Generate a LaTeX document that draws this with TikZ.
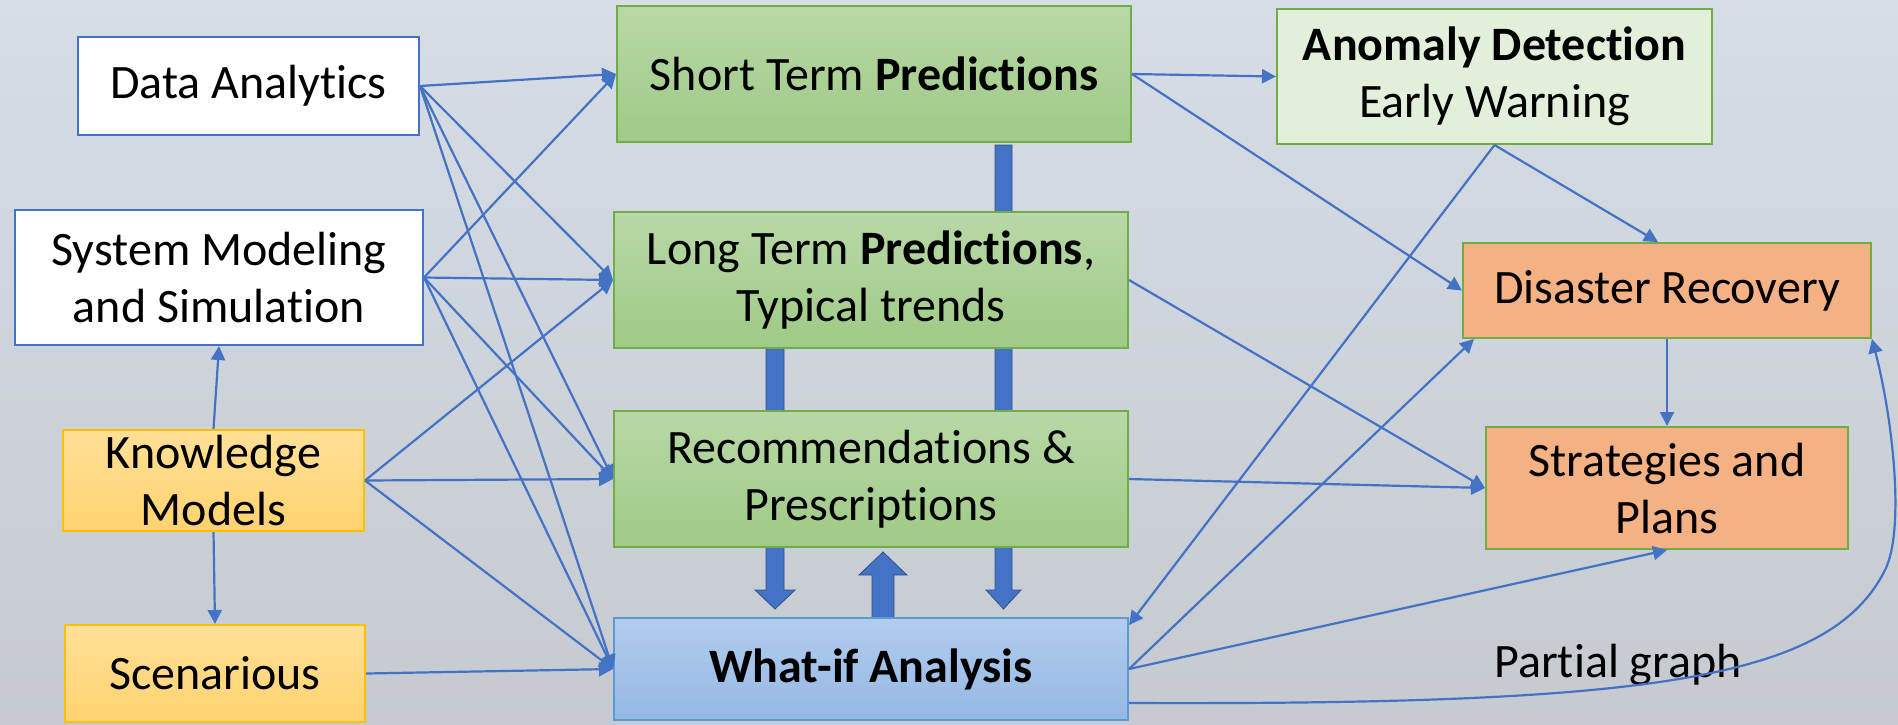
\documentclass[tikz,border=0pt]{standalone}
\usepackage{fontspec}
\setmainfont{Carlito}[Ligatures={NoCommon}]
\usetikzlibrary{arrows.meta,calc}
\definecolor{lineblue}{RGB}{68,114,196}
\definecolor{blockedge}{RGB}{47,82,143}
\definecolor{greenedge}{RGB}{112,173,71}
\definecolor{greentop}{RGB}{184,216,167}
\definecolor{greenbot}{RGB}{159,202,133}
\definecolor{lgreen}{RGB}{226,239,218}
\definecolor{orangefill}{RGB}{244,177,131}
\definecolor{yeltop}{RGB}{255,224,152}
\definecolor{yelbot}{RGB}{255,210,110}
\definecolor{yeledge}{RGB}{255,192,0}
\definecolor{bluetop}{RGB}{178,204,237}
\definecolor{bluebot}{RGB}{149,184,228}
\definecolor{blueedge}{RGB}{91,155,213}
\definecolor{bgtop}{RGB}{214,221,229}
\definecolor{bgbot}{RGB}{198,202,208}
\tikzset{
  box/.style={draw, line width=1pt, inner sep=0pt, align=center,
    font=\fontsize{24}{28.5}\selectfont, text=black},
  whitebox/.style={box, draw=lineblue, fill=white},
  greenbox/.style={box, draw=greenedge, top color=greentop, bottom color=greenbot},
  lgreenbox/.style={box, draw=greenedge, fill=lgreen},
  orangebox/.style={box, draw=greenedge, fill=orangefill},
  yellowbox/.style={box, draw=yeledge, top color=yeltop, bottom color=yelbot},
  bluebox/.style={box, draw=blueedge, top color=bluetop, bottom color=bluebot},
  conn/.style={draw=lineblue, line width=1.1pt, -{Triangle[length=7pt,width=7pt]}},
  blockarrow/.style={fill=lineblue, draw=blockedge, line width=0.4pt},
}
\begin{document}
\begin{tikzpicture}[x=0.5pt,y=-0.5pt]
\useasboundingbox (0,0) rectangle (1898,724);
\shade[top color=bgtop, bottom color=bgbot] (0,0) rectangle (1898,724);

% block arrows (behind boxes)
\draw[blockarrow] (995,145) -- (1012,145) -- (1012,590) -- (1021,590) -- (1003.5,609) -- (986,590) -- (995,590) -- cycle;
\draw[blockarrow] (766,345) -- (784,345) -- (784,590) -- (795,590) -- (775,609) -- (755,590) -- (766,590) -- cycle;
\draw[blockarrow] (872,618) -- (872,575) -- (859,575) -- (883,552) -- (907,575) -- (894,575) -- (894,618) -- cycle;

% nodes
\node[whitebox, minimum width=170.5pt, minimum height=49pt] (da) at (248.5,86) {Data Analytics};
\node[whitebox, minimum width=204pt, minimum height=67.5pt] (sm) at (219,277.5) {System Modeling\\and Simulation};
\node[yellowbox, minimum width=150.5pt, minimum height=50.5pt] (km) at (213.5,480.5) {Knowledge\\Models};
\node[yellowbox, minimum width=150pt, minimum height=48.5pt] (sc) at (215,673.5) {Scenarious};
\node[greenbox, minimum width=257pt, minimum height=68pt] (st) at (874,74) {Short Term \textbf{Predictions}};
\node[greenbox, minimum width=257pt, minimum height=68pt] (lt) at (871,280) {Long Term \textbf{Predictions},\\Typical trends};
\node[greenbox, minimum width=257pt, minimum height=68pt] (rec) at (871,479) {Recommendations \&\\Prescriptions};
\node[bluebox, minimum width=257pt, minimum height=51pt] (wif) at (871,669) {\textbf{What-if Analysis}};
\node[lgreenbox, minimum width=217.5pt, minimum height=67.5pt] (ad) at (1494.5,76.5) {\textbf{Anomaly Detection}\\Early Warning};
\node[orangebox, minimum width=204pt, minimum height=47.5pt] (dr) at (1667,290.5) {Disaster Recovery};
\node[orangebox, minimum width=181pt, minimum height=61pt] (sp) at (1667,488) {Strategies and\\Plans};
\node[inner sep=0pt, font=\fontsize{24}{28.5}\selectfont] (pg) at (1618,665) {Partial graph};

% connectors from left column
\foreach \s in {da,sm} {
  \draw[conn] (\s.east) -- (st.west);
  \draw[conn] (\s.east) -- (lt.west);
  \draw[conn] (\s.east) -- (rec.west);
  \draw[conn] (\s.east) -- (wif.west);
}
\draw[conn] (km.east) -- (lt.west);
\draw[conn] (km.east) -- (rec.west);
\draw[conn] (km.east) -- (wif.west);
\draw[conn] (sc.east) -- (wif.west);
\draw[conn] (km.north) -- (sm.south);
\draw[conn] (km.south) -- (sc.north);

% right side
\draw[conn] (st.east) -- (ad.west);
\draw[conn] (st.east) -- (dr.west);
\draw[conn] (lt.east) -- (sp.west);
\draw[conn] (rec.east) -- (sp.west);
\draw[conn] (ad.south) -- ([xshift=-4.5pt]dr.north);
\draw[conn] (ad.south) -- ([yshift=-4pt]wif.north east);
\draw[conn] (wif.east) -- ([xshift=6pt]dr.south west);
\draw[conn] (wif.east) -- (sp.south);
\draw[conn] (dr.south) -- (sp.north);
\draw[conn] ([yshift=-17pt]wif.east) .. controls (1650,705) and (1830,680) .. (1885,570)
  .. controls (1905,530) and (1893,420) .. (dr.south east);
\end{tikzpicture}
\end{document}
